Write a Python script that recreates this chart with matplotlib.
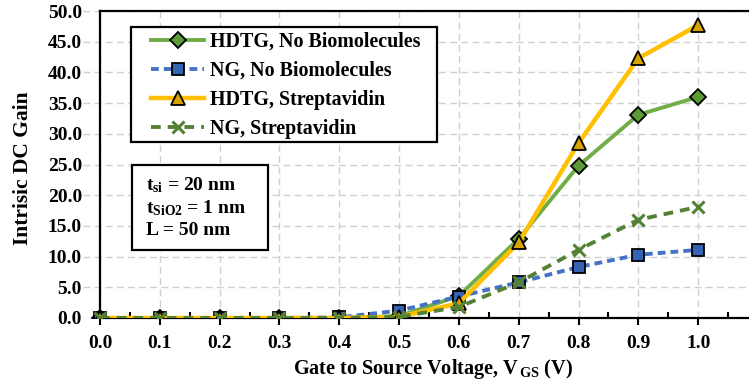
import matplotlib.pyplot as plt
from matplotlib.patches import Rectangle
from matplotlib.ticker import MultipleLocator

plt.rcParams['font.family'] = ['Liberation Serif', 'DejaVu Serif']
plt.rcParams['font.weight'] = 'bold'
plt.rcParams['mathtext.fontset'] = 'custom'
plt.rcParams['mathtext.rm'] = 'Liberation Serif:bold'
plt.rcParams['mathtext.it'] = 'Liberation Serif:bold'
plt.rcParams['mathtext.bf'] = 'Liberation Serif:bold'

# gate voltage sweep (V)
vgs = [0.0, 0.1, 0.2, 0.3, 0.4, 0.5, 0.6, 0.7, 0.8, 0.9, 1.0]

# intrinsic gain for each device / condition
hdtg_nobio = [0.0, 0.0, 0.0, 0.0, 0.0, 0.3, 3.6, 12.9, 24.8, 33.1, 36.0]
ng_nobio = [0.0, 0.0, 0.0, 0.0, 0.1, 1.2, 3.5, 5.8, 8.3, 10.3, 11.1]
hdtg_strep = [0.0, 0.0, 0.0, 0.0, 0.0, 0.2, 2.4, 12.3, 28.5, 42.3, 47.7]
ng_strep = [0.0, 0.0, 0.0, 0.0, 0.0, 0.2, 1.8, 5.8, 11.1, 16.0, 18.1]

labels = ['HDTG, No Biomolecules', 'NG, No Biomolecules',
          'HDTG, Streptavidin', 'NG, Streptavidin']

fig = plt.figure(figsize=(7.49, 3.87), dpi=100)
ax = fig.add_axes([83 / 749, 1 - 318 / 387, 666 / 749, 307 / 387])

ax.plot(vgs, hdtg_nobio, color='#70AD47', lw=2.8, marker='D', ms=8.5,
        mfc='#5C9A36', mec='black', mew=1.3, label=labels[0], zorder=3)
ax.plot(vgs, ng_nobio, color='#4472C4', lw=2.8, ls=(0, (2, 1.3)), marker='s', ms=9,
        mfc='#3563B3', mec='black', mew=1.3, label=labels[1], zorder=3)
ax.plot(vgs, hdtg_strep, color='#FFC000', lw=3.2, marker='^', ms=10,
        mfc='#D7A300', mec='black', mew=1.3, label=labels[2], zorder=3)
ax.plot(vgs, ng_strep, color='#548235', lw=2.8, ls=(0, (2.5, 1.8)), marker='x', ms=9,
        mew=2.2, label=labels[3], zorder=3)

ax.set_xlim(-0.0284, 1.085)
ax.set_ylim(0, 50)

# axes: y axis crosses at x = 0, box closed only along the top
ax.spines['left'].set_position(('data', 0))
ax.spines['right'].set_visible(False)
ax.spines['top'].set_bounds(0, 1.085)
ax.spines['bottom'].set_bounds(0, 1.085)
for s in ('left', 'top', 'bottom'):
    ax.spines[s].set_linewidth(1.6)

ax.xaxis.set_minor_locator(MultipleLocator(0.05))
ax.set_xticks([i / 10 for i in range(11)])
ax.set_xticklabels([f'{i / 10:.1f}' for i in range(11)])
ax.set_yticks(range(0, 51, 5))
ax.set_yticklabels([f'{v:.1f}' for v in range(0, 51, 5)])
ax.tick_params(axis='x', which='major', direction='out', length=5, width=1.5,
               labelsize=14, pad=7)
ax.tick_params(axis='x', which='minor', direction='in', length=4, width=1.5)
ax.tick_params(axis='y', length=0, labelsize=14, pad=13)

ax.grid(True, which='major', color='#D0D0D0', ls=(0, (5, 3)), lw=1.0)
ax.set_axisbelow(True)

ax.set_xlabel('Gate to Source Voltage, V$_{\\,\\mathbf{GS}}$ (V)', fontsize=14.6,
              fontweight='bold')
ax.xaxis.set_label_coords((433 - 83) / 666, -(369 - 318) / 307)
ax.xaxis.label.set_va('center')
fig.text(23 / 749, 1 - 168 / 387, 'Intrisic DC Gain', rotation=90, fontsize=15.5,
         fontweight='bold', ha='center', va='center')

# legend without its own frame; the box is drawn separately behind it
leg = ax.legend(loc='upper left', bbox_to_anchor=(151 / 749, 1 - 32 / 387),
                bbox_transform=fig.transFigure, borderaxespad=0, borderpad=0,
                frameon=False, fontsize=14.4, handlelength=2.65,
                handletextpad=0.3, labelspacing=0.45)
for t in leg.get_texts():
    t.set_fontweight('bold')
leg.set_zorder(6)
ax.add_patch(Rectangle((131 / 749, 1 - 142 / 387), 306 / 749, 115 / 387,
                       transform=fig.transFigure, fc='white', ec='black',
                       lw=1.6, zorder=5, clip_on=False))

# device parameters box
ax.add_patch(Rectangle((132 / 749, 1 - 250 / 387), 136 / 749, 85 / 387,
                       transform=fig.transFigure, fc='white', ec='black',
                       lw=1.6, zorder=5, clip_on=False))
params = ['t$_{si}$ = 20 nm', 't$_{SiO2}$ = 1 nm', 'L = 50 nm']
for i, p in enumerate(params):
    fig.text(146 / 749, 1 - (185 + i * 23) / 387, p, fontsize=14,
             fontweight='bold', va='center', zorder=6)

fig.savefig('out.png', dpi=100)
